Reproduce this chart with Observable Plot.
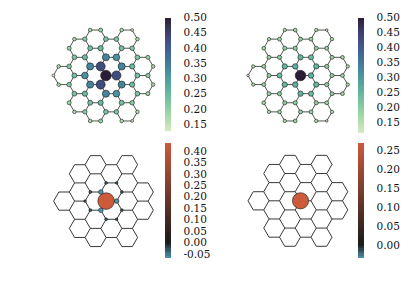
<!DOCTYPE html>
<html><head><meta charset="utf-8">
<script src="https://cdn.jsdelivr.net/npm/d3@7"></script>
<script src="https://cdn.jsdelivr.net/npm/@observablehq/plot@0.6"></script>
<style>
html,body{margin:0;padding:0;background:#fff;}
#fig{position:relative;width:415px;height:294px;overflow:hidden;font-family:"DejaVu Serif",serif;}
#fig > div, #fig > svg{position:absolute;}
</style></head><body><div id="fig"></div>
<script>
// ring (hexagon) centres in lattice coordinates (a, b) around the central site
const rings = [[0,0],[0,1],[0,-1],[0,2],[0,-2],[1,0],[1,-1],[1,1],[1,-2],[-1,0],[-1,1],[-1,-1],[-1,2],[2,-1],[2,0],[2,-2],[2,1],[2,-3],[-2,1],[3,-1],[3,-2]];
// neighbour shells: squared distance from the central site (bond lengths)
const shellD2  = [0, 1, 3, 4, 7, 9, 12, 13, 16, 19, 21, 25];
// site values per shell, for each panel
const valuesTL = [0.497, 0.43, 0.335, 0.315, 0.245, 0.235, 0.225, 0.215, 0.205, 0.19, 0.17, 0.13];
const valuesTR = [0.497, 0.26, 0.25, 0.24, 0.2, 0.195, 0.19, 0.185, 0.18, 0.175, 0.16, 0.12];
const valuesBL = [0.434, -0.069, -0.035, -0.03, 0, 0, 0, 0, 0, 0, 0, 0];
const valuesBR = [0.268, 0, 0, 0, 0, 0, 0, 0, 0, 0, 0, 0];
// colourbar ranges and tick labels
const barTL = [0.126, 0.497];
const barTR = [0.115, 0.497];
const barBL = [-0.069, 0.434];
const barBR = [-0.035, 0.268];
const ticksTop = [0.15, 0.20, 0.25, 0.30, 0.35, 0.40, 0.45, 0.50];
const ticksBL  = [-0.05, 0.00, 0.05, 0.10, 0.15, 0.20, 0.25, 0.30, 0.35, 0.40];
const ticksBR  = [0.00, 0.05, 0.10, 0.15, 0.20, 0.25];

const deepColors = ["#d8eac4","#afdcab","#88cca2","#68b9a0","#52a19f","#45879c","#3f6d97","#42548a","#3d3c69","#2b1d35"];
const divColors = ["#4f95ae","#1b1b1b","#cc5a3b"];

const S3 = Math.sqrt(3);
const key = (x, y) => `${Math.round(x*1000)},${Math.round(y*1000)}`;
const siteMap = new Map(), edgeMap = new Map();
for (const [a, b] of rings) {
  const cx = -1 + 1.5*a, cy = S3/2*a + S3*b;
  const vs = d3.range(6).map(k => ({x: cx + Math.cos(Math.PI*k/3), y: cy + Math.sin(Math.PI*k/3)}));
  vs.forEach(v => siteMap.set(key(v.x, v.y), v));
  vs.forEach((v, k) => {
    const w = vs[(k+1)%6];
    const k1 = key(v.x, v.y), k2 = key(w.x, w.y);
    const ek = k1 < k2 ? k1 + "|" + k2 : k2 + "|" + k1;
    if (!edgeMap.has(ek)) edgeMap.set(ek, {x1: v.x, y1: v.y, x2: w.x, y2: w.y});
  });
}
const edges = [...edgeMap.values()];
const sites = [...siteMap.values()].map(s => ({...s, shell: d3.minIndex(shellD2, d => Math.abs(d - (s.x*s.x + s.y*s.y)))}));

const R = 10.5;
const fig = document.getElementById("fig");

function place(el, left, top) {
  el.style.position = "absolute";
  el.style.left = left + "px";
  el.style.top = top + "px";
  fig.appendChild(el);
}

function topColor(dom) {
  return {type: "linear", domain: dom, interpolate: d3.piecewise(d3.interpolateRgb, deepColors)};
}
function divColor(dom) {
  return {type: "diverging", pivot: 0, symmetric: false, domain: dom, interpolate: d3.piecewise(d3.interpolateRgb, divColors)};
}

function lattice(values, color, r, box, site, opts) {
  const [left, top, w, h] = box;
  const sx = site[0] - left, sy = site[1] - top;
  const data = sites.map(s => ({...s, v: values[s.shell]})).filter(d => d.v !== 0);
  const p = Plot.plot({
    width: w, height: h, margin: 0,
    x: {domain: [(0 - sx)/R, (w - sx)/R], range: [0, w], axis: null},
    y: {domain: [(0 - sy)/R, (h - sy)/R], range: [0, h], axis: null},
    color, r,
    marks: [
      Plot.link(edges, {x1: "x1", y1: "y1", x2: "x2", y2: "y2", stroke: opts.edge, strokeWidth: opts.edgeWidth}),
      Plot.dot(data, {x: "x", y: "y", r: d => Math.abs(d.v), fill: "v", stroke: "#1a1a1a", strokeWidth: 0.6})
    ]
  });
  place(p, left, top);
}

function colorbar(dom, ticks, color, left, barTop, barH) {
  const [lo, hi] = dom;
  const n = 48;
  const bands = d3.range(n).map(i => ({y1: lo + (hi - lo)*i/n, y2: lo + (hi - lo)*(i + 1)/n}));
  const bw = 6, W = 56, m = 8;
  const p = Plot.plot({
    width: W, height: barH + 2*m, marginTop: m, marginBottom: m, marginLeft: 0, marginRight: W - bw,
    style: {fontFamily: "DejaVu Serif", fontSize: "10.5px", color: "#111", background: "transparent"},
    x: {domain: [0, 1], axis: null},
    y: {domain: [lo, hi]},
    color,
    marks: [
      Plot.rect(bands, {x1: 0, x2: 1, y1: "y1", y2: "y2", fill: d => (d.y1 + d.y2)/2, shapeRendering: "crispEdges"}),
      Plot.axisY(ticks, {anchor: "right", tickSize: 0, tickPadding: 12, label: null,
        tickFormat: d => d.toFixed(2), fontSize: 10.5, fill: "#111"})
    ]
  });
  place(p, left, barTop - m);
}

const cTL = topColor(barTL), cTR = topColor(barTR), cBL = divColor(barBL), cBR = divColor(barBR);
const rTop = {type: "linear", domain: [0, 0.5], range: [0, 5.3]};

lattice(valuesTL, cTL, rTop, [0, 0, 160, 140], [105.4, 75], {edge: "#2a2a2a", edgeWidth: 0.8});
lattice(valuesTR, cTR, rTop, [195, 0, 160, 140], [300, 75], {edge: "#2a2a2a", edgeWidth: 0.8});
lattice(valuesBL, cBL, {type: "pow", exponent: 0.7, domain: [0, 0.434], range: [0, 8.3]}, [0, 140, 160, 154], [105.6, 200.6], {edge: "#222", edgeWidth: 0.9});
lattice(valuesBR, cBR, {type: "pow", exponent: 0.7, domain: [0, 0.268], range: [0, 8.1]}, [195, 140, 160, 154], [300, 200.3], {edge: "#222", edgeWidth: 0.9});

colorbar(barTL, ticksTop, cTL, 165, 18.3, 113.4);
colorbar(barTR, ticksTop, cTR, 358.3, 18.3, 115);
colorbar(barBL, ticksBL, cBL, 165, 143.3, 115);
colorbar(barBR, ticksBR, cBR, 358.3, 143.3, 115);
</script></body></html>
